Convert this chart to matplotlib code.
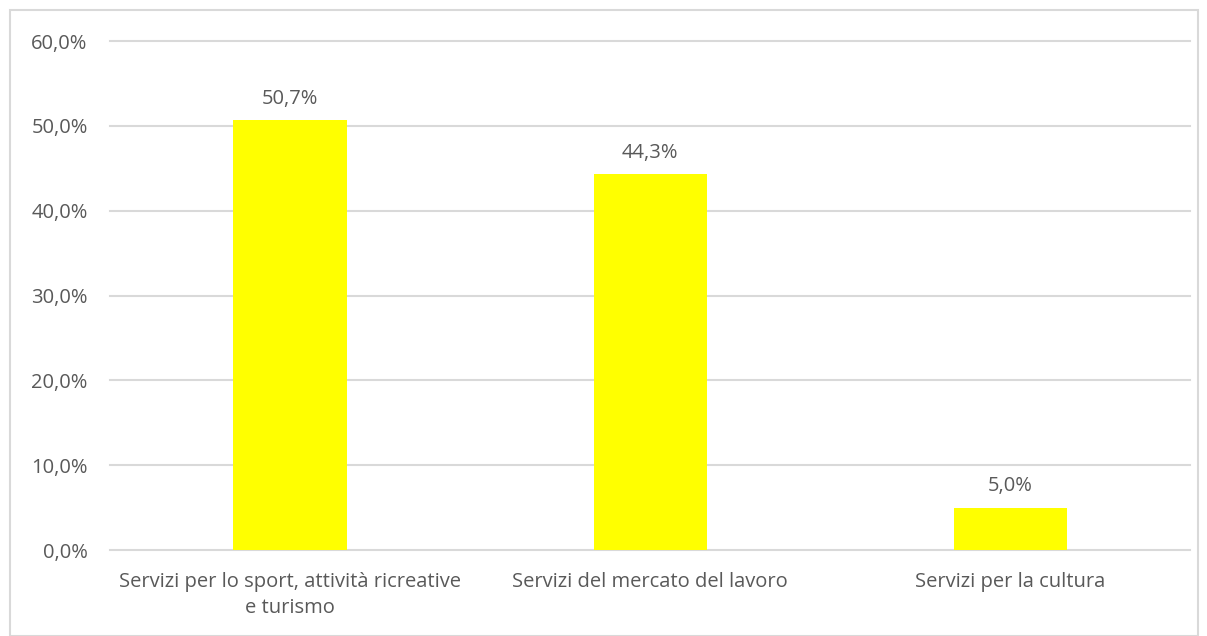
import matplotlib.pyplot as plt
from matplotlib.patches import Rectangle
from matplotlib.ticker import FuncFormatter

categories = ["Servizi per lo sport, attività ricreative\ne turismo",
              "Servizi del mercato del lavoro",
              "Servizi per la cultura"]
values = [50.7, 44.3, 5.0]
yticks = [0, 10, 20, 30, 40, 50, 60]

plt.rcParams['font.family'] = ['Open Sans', 'DejaVu Sans']
txt = '#595959'
grid = '#d9d9d9'

fig = plt.figure(figsize=(12.07, 6.36), dpi=100)
ax = fig.add_axes([0.0911, 0.1352, 0.8950, 0.8003])

x = list(range(len(categories)))
ax.bar(x, values, width=0.314, color='#ffff00', zorder=3)
for xi, v in zip(x, values):
    ax.annotate(f"{v:.1f}%".replace('.', ','), (xi, v), xytext=(0, 8),
                textcoords='offset points', ha='center', va='bottom',
                fontsize=14.5, color=txt)

ax.set_xlim(-0.5, len(categories) - 0.5)
ax.set_ylim(0, 60)
ax.set_yticks(yticks)
ax.yaxis.set_major_formatter(FuncFormatter(lambda v, p: f"{v:.1f}%".replace('.', ',')))
ax.set_xticks(x)
ax.set_xticklabels(categories, fontsize=14.5, color=txt, linespacing=1.4)
ax.tick_params(axis='y', labelsize=14.5, labelcolor=txt, length=0, pad=16)
ax.tick_params(axis='x', length=0, pad=16)
ax.grid(axis='y', color=grid, linewidth=1.5, zorder=0)
for line in ax.get_ygridlines():
    line.set_clip_on(False)
for s in ax.spines.values():
    s.set_visible(False)

fig.patches.append(Rectangle((10 / 1207, 0), 1188 / 1207, 1 - 10 / 636,
                             transform=fig.transFigure, fill=False,
                             edgecolor=grid, linewidth=1.5))

plt.savefig("out.png", dpi=100)
